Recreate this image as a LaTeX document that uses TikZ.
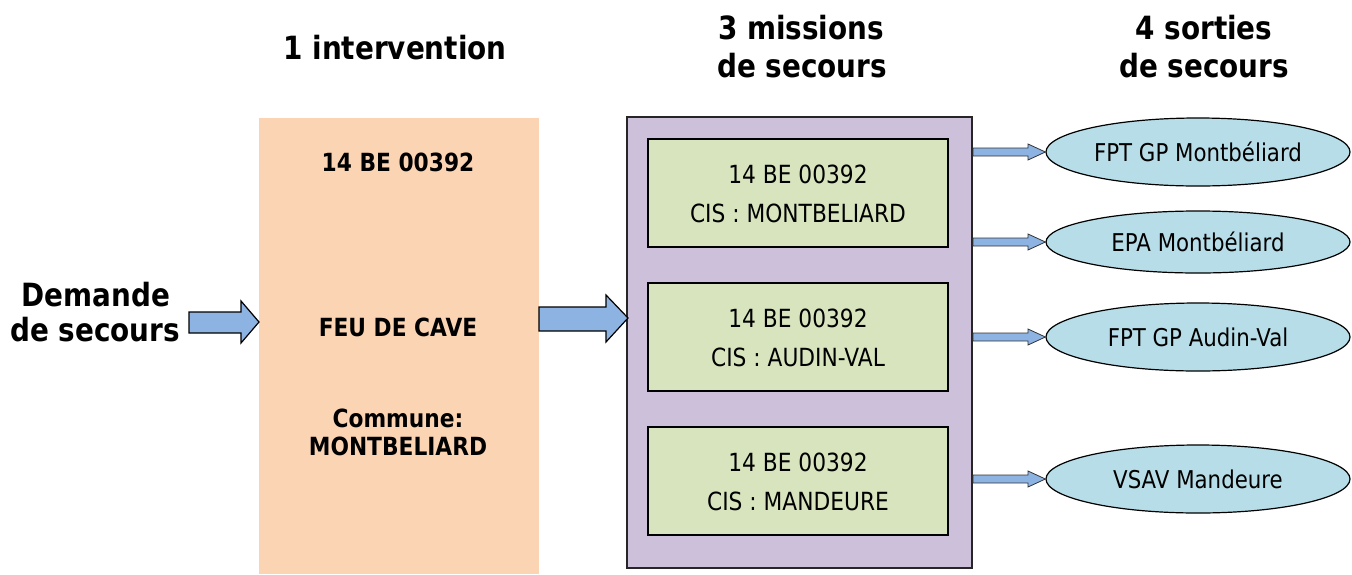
\documentclass[tikz,border=0pt]{standalone}
\usepackage{fontspec}
\setmainfont{DejaVu Sans}[FakeStretch=0.87]
\usetikzlibrary{shapes.geometric,calc}
\definecolor{orangefill}{HTML}{FBD4B4}
\definecolor{purplefill}{HTML}{CCC0DA}
\definecolor{greenfill}{HTML}{D7E4BD}
\definecolor{bluefill}{HTML}{B7DEE8}
\definecolor{arrowfill}{HTML}{8DB3E2}
\tikzset{
  titletext/.style={font=\fontsize{32}{36}\selectfont\bfseries, align=center, inner sep=0pt},
  orangetext/.style={font=\fontsize{25}{28}\selectfont\bfseries, align=center, inner sep=0pt},
  greentext/.style={font=\fontsize{25}{28}\selectfont, inner sep=0pt},
  greenbox/.style={draw=black, line width=1.5pt, fill=greenfill},
  sortie/.style={ellipse, draw=black, line width=1.2pt, fill=bluefill, minimum width=304pt, inner sep=0pt, font=\fontsize{24.5}{28}\selectfont},
  blockarrow/.style={draw=black, line width=1.2pt, fill=arrowfill, line join=miter},
  smallarrow/.style={draw=black!80, line width=0.8pt, fill=arrowfill, line join=miter}
}
\begin{document}
\begin{tikzpicture}[x=1pt,y=-1pt]
\useasboundingbox (0,0) rectangle (1352,574);
% titles
\node[titletext] (t1) at (395,48) {1 intervention};
\node[titletext] (t2a) at (801,28) {3 missions};
\node[titletext] (t2b) at (802,66) {de secours};
\node[titletext] (t3a) at (1204,28) {4 sorties};
\node[titletext] (t3b) at (1204,66) {de secours};
\node[titletext] (dem1) at (96,295) {Demande};
\node[titletext] (dem2) at (95,330) {de secours};
% orange box
\fill[orangefill] (259,118) rectangle (539,574);
\coordinate (orW) at (259,322);
\coordinate (orE) at (539,319);
\node[orangetext] (o1) at (398,162) {14 BE 00392};
\node[orangetext] (o2) at (398,327) {FEU DE CAVE};
\node[orangetext] (o3) at (398,418) {Commune:};
\node[orangetext] (o4) at (398,446) {MONTBELIARD};
% purple box
\draw[draw=black!85, line width=2pt, fill=purplefill] (627,117) rectangle (972,568);
\coordinate (puW) at (628,318);
% green boxes
\foreach \i/\y/\cis in {1/139/MONTBELIARD, 2/283/AUDIN-VAL, 3/427/MANDEURE}{
  \draw[greenbox] (648,\y) rectangle (948,\y+108);
  \node[greentext] (g\i a) at (798,\y+35) {14 BE 00392};
  \node[greentext] (g\i b) at (798,\y+74) {CIS : \cis};
}
% ellipses
\node[sortie, minimum height=68pt] (s1) at (1198,152) {FPT GP Montbéliard};
\node[sortie, minimum height=62pt] (s2) at (1198,242) {EPA Montbéliard};
\node[sortie, minimum height=68pt] (s3) at (1198,337) {FPT GP Audin-Val};
\node[sortie, minimum height=68pt] (s4) at (1198,479) {VSAV Mandeure};
% big arrows
\coordinate (a1tail) at (189,322);
\draw[blockarrow] let \p1=(a1tail) in (\x1,312) -- (241,312) -- (241,301) -- (orW) -- (241,343) -- (241,333) -- (\x1,333) -- cycle;
\draw[blockarrow] (orE |- 0,307) -- (606,307) -- (606,295) -- (puW) -- (606,342) -- (606,331) -- (orE |- 0,331) -- cycle;
% small arrows
\foreach \s in {s1,s2,s3,s4}{
  \draw[smallarrow] let \p1=(\s.west) in
    (973,\y1-4) -- (1028,\y1-4) -- (1028,\y1-8) -- (\p1) -- (1028,\y1+8) -- (1028,\y1+4) -- (973,\y1+4) -- cycle;
}
\end{tikzpicture}
\end{document}
